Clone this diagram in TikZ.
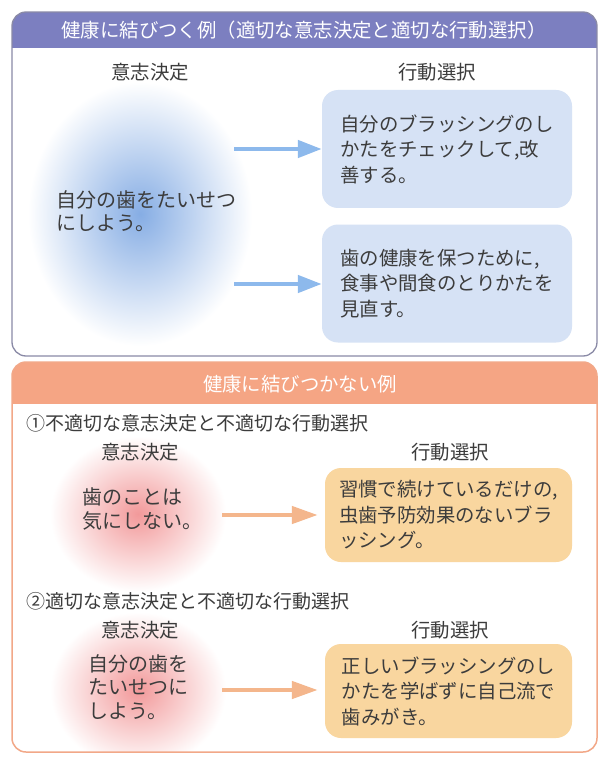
\documentclass[tikz,border=0pt]{standalone}
\usepackage{fontspec}
\setmainfont{Noto Sans CJK JP}
\usetikzlibrary{arrows.meta}
\definecolor{txtc}{HTML}{3C3C3C}
\definecolor{purplehead}{HTML}{7C7FC0}
\definecolor{purpleline}{HTML}{8A8AA6}
\definecolor{salmonhead}{HTML}{F5A584}
\definecolor{salmonline}{HTML}{F2A888}
\definecolor{blueboxc}{HTML}{D6E2F5}
\definecolor{orangeboxc}{HTML}{F9D69F}
\definecolor{bluearr}{HTML}{8DB9EC}
\definecolor{orangearr}{HTML}{F4B68C}
\definecolor{blueglow}{HTML}{86ADE4}
\definecolor{pinkglow}{HTML}{F2999A}
\tikzset{
  txt/.style={inner sep=0pt, text=txtc, font=\fontsize{19.4pt}{25.5pt}\selectfont, align=left},
  blobtxt/.style={inner sep=0pt, text=txtc, font=\fontsize{20pt}{23.5pt}\selectfont, align=left, anchor=west},
  headtxt/.style={inner sep=0pt, text=white, font=\fontsize{19.4pt}{23pt}\selectfont},
  bluebox/.style={txt, fill=blueboxc, rounded corners=16pt, minimum width=250pt, minimum height=118pt},
  orangebox/.style={txt, fill=orangeboxc, rounded corners=16pt, minimum width=247pt, minimum height=94pt},
  bluearrow/.style={draw=bluearr, line width=4.5pt, -{Triangle[length=24pt,width=17pt]}},
  orangearrow/.style={draw=orangearr, line width=4.5pt, -{Triangle[length=26pt,width=17pt]}},
}
\begin{document}
\begin{tikzpicture}[x=1pt,y=-1pt]
\useasboundingbox (0,0) rectangle (601,759);
\fill[white] (0,0) rectangle (601,759);
% ---------- top panel ----------
\fill[white] (12,12) rectangle (597,356);
\begin{scope}
  \clip[rounded corners=14pt] (12,12) rectangle (597,356);
  \fill[purplehead] (12,12) rectangle (597,48);
  \shade[inner color=blueglow, outer color=white] (140,214) ellipse [x radius=112pt, y radius=132pt];
\end{scope}
\draw[purpleline, line width=1.3pt, rounded corners=14pt] (12,12) rectangle (597,356);
\node[headtxt] (h1) at (304,30) {健康に結びつく例（適切な意志決定と適切な行動選択）};
\node[txt] (d1) at (150,72) {意志決定};
\node[txt] (s1) at (437,72) {行動選択};
\node[blobtxt] (t1) at (56,211) {自分の歯をたいせつ\\にしよう。};
\node[bluebox] (b1) at (447,149) {自分のブラッシングのし\\かたをチェックして,改\\善する。};
\node[bluebox] (b2) at (447,283.5) {歯の健康を保つために,\\食事や間食のとりかたを\\見直す。};
\coordinate (a1) at (234,149);
\coordinate (a2) at (234,284);
\draw[bluearrow] (a1) -- (b1.west |- a1);
\draw[bluearrow] (a2) -- (b2.west |- a2);
% ---------- bottom panel ----------
\begin{scope}
  \clip[rounded corners=14pt] (12,362) rectangle (597,752);
  \fill[salmonhead] (12,362) rectangle (597,404);
  \shade[inner color=pinkglow, outer color=white] (138,514) ellipse [x radius=88pt, y radius=78pt];
  \shade[inner color=pinkglow, outer color=white] (138,690) ellipse [x radius=88pt, y radius=78pt];
\end{scope}
\draw[salmonline, line width=1.5pt, rounded corners=14pt] (12,362) rectangle (597,752);
\node[headtxt] (h2) at (300,384) {健康に結びつかない例};
\node[txt, anchor=west, font=\fontsize{19pt}{25pt}\selectfont] (c1) at (26,423) {①不適切な意志決定と不適切な行動選択};
\node[txt] (d2) at (140,452) {意志決定};
\node[txt] (s2) at (450,452) {行動選択};
\node[blobtxt] (t2) at (82,509) {歯のことは\\気にしない。};
\node[orangebox] (o1) at (448.5,515) {習慣で続けているだけの,\\虫歯予防効果のないブラ\\ッシング。};
\coordinate (a3) at (222,515);
\draw[orangearrow] (a3) -- ([xshift=-7pt]o1.west |- a3);
\node[txt, anchor=west, font=\fontsize{19pt}{25pt}\selectfont] (c2) at (26,601) {②適切な意志決定と不適切な行動選択};
\node[txt] (d3) at (140,630) {意志決定};
\node[txt] (s3) at (450,630) {行動選択};
\node[blobtxt] (t3) at (88,687) {自分の歯を\\たいせつに\\しよう。};
\node[orangebox] (o2) at (448.5,691) {正しいブラッシングのし\\かたを学ばずに自己流で\\歯みがき。};
\coordinate (a4) at (222,690);
\draw[orangearrow] (a4) -- ([xshift=-7pt]o2.west |- a4);
\end{tikzpicture}
\end{document}
